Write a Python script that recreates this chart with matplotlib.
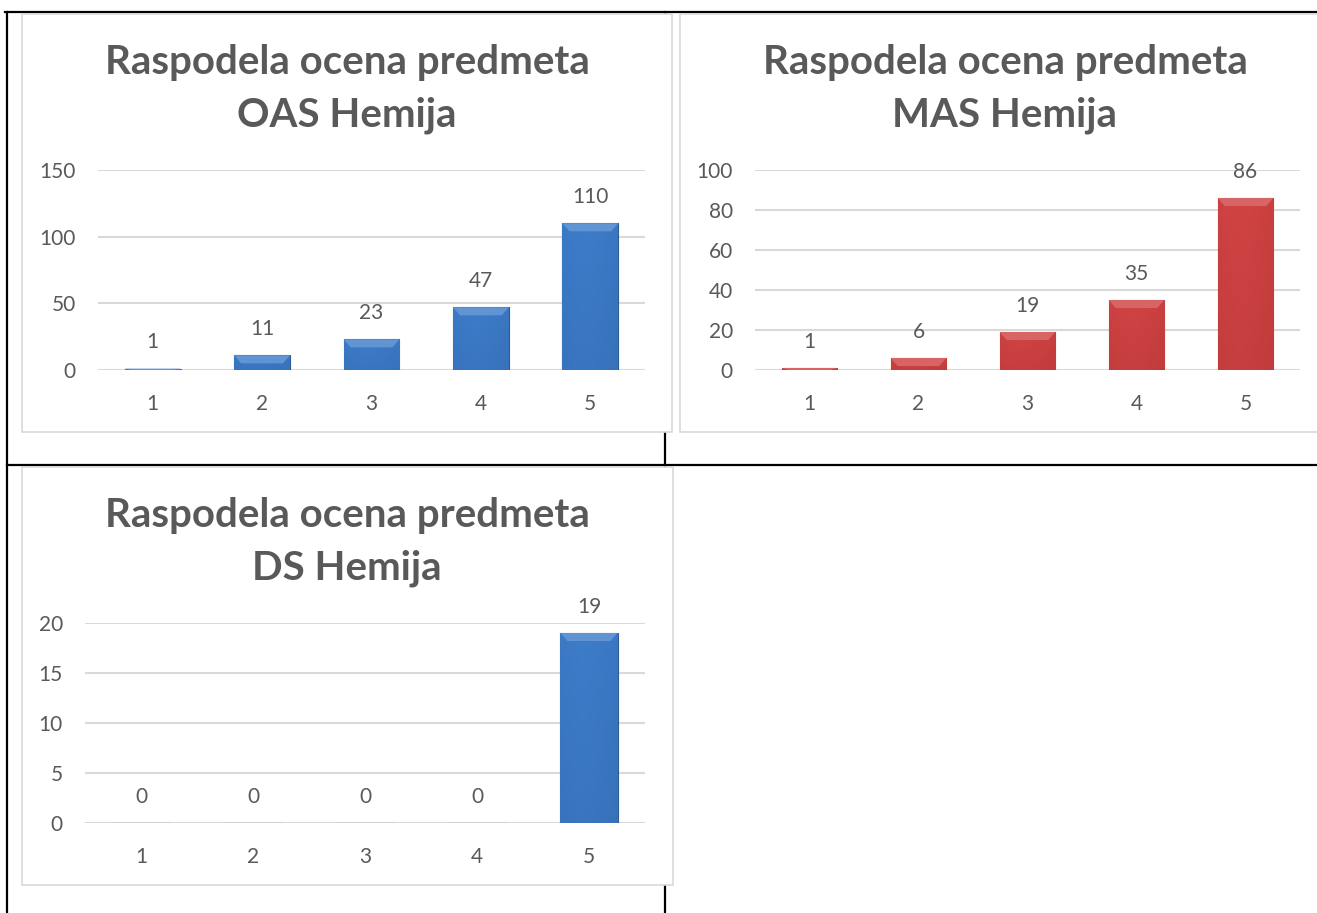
import matplotlib.pyplot as plt
import numpy as np
from matplotlib.patches import Rectangle, Polygon
from matplotlib.lines import Line2D
from matplotlib.colors import to_rgb

plt.rcParams['font.family'] = ['Lato', 'DejaVu Sans']

# Podaci
ocene = [1, 2, 3, 4, 5]
oas_hemija = [1, 11, 23, 47, 110]
mas_hemija = [1, 6, 19, 35, 86]
ds_hemija = [0, 0, 0, 0, 19]

naslovi = ["Raspodela ocena predmeta\nOAS Hemija",
           "Raspodela ocena predmeta\nMAS Hemija",
           "Raspodela ocena predmeta\nDS Hemija"]

W, H = 1317, 913
SIVA = '#595959'
MREZA = '#D9D9D9'

fig = plt.figure(figsize=(W / 100, H / 100), dpi=100)


def px(x, y, w, h):
    # pikseli (od gore) -> koordinate figure
    return [x / W, (H - y - h) / H, w / W, h / H]


def okvir(x, y, w, h):
    r = Rectangle((x / W, (H - y - h) / H), w / W, h / H, transform=fig.transFigure,
                  facecolor='white', edgecolor=MREZA, lw=1.2, zorder=1)
    fig.add_artist(r)


def linija(x1, y1, x2, y2):
    fig.add_artist(Line2D([x1 / W, x2 / W], [1 - y1 / H, 1 - y2 / H],
                          transform=fig.transFigure, color='black', lw=1.6, zorder=0))


# linije tabele
linija(5, 12, W, 12)
linija(7, 12, 7, H)
linija(7, 465, W, 465)
linija(665, 12, 665, H)

# okviri grafikona
okvir(22, 14, 650, 418)
okvir(680, 14, 650, 418)
okvir(22, 467, 651, 418)


def grafikon(pos, vrednosti, ymax, korak, boja, tamna, naslov, cx, ty):
    ax = fig.add_axes(px(*pos), zorder=2)
    ax.patch.set_alpha(0)
    ax.set_xlim(0.5, 5.5)
    ax.set_ylim(0, ymax)
    ax.set_yticks(np.arange(0, ymax + 1, korak))
    ax.set_xticks(ocene)
    ax.set_xticklabels([str(o) for o in ocene])
    for s in ax.spines.values():
        s.set_visible(False)
    ax.tick_params(length=0, labelsize=15, colors=SIVA)
    ax.tick_params(axis='x', pad=17)
    ax.tick_params(axis='y', pad=16)
    ax.grid(axis='y', color=MREZA, lw=1.5)
    ax.set_axisbelow(True)

    bars = ax.bar(ocene, vrednosti, width=0.51, color=boja, edgecolor=tamna, lw=0.8, zorder=3)
    # gradijent i ivica (bevel)
    jed = ymax / pos[3]          # jedinica podataka po pikselu
    dx = 7 / (pos[2] / 5)
    c1 = np.array(to_rgb(boja))
    c2 = np.array(to_rgb(tamna))
    for b, v in zip(bars, vrednosti):
        if v <= 0:
            continue
        x0, w = b.get_x(), b.get_width()
        gx = np.linspace(0, 1, 50)
        gy = np.linspace(0, 1, 50)
        sx = 1 - 0.35 * np.abs(gx - 0.4) ** 1.5
        sy = 0.8 + 0.2 * gy
        f = np.outer(sy, sx)[..., None]
        img = c2 + (c1 - c2) * f
        im = ax.imshow(np.clip(img, 0, 1), extent=[x0, x0 + w, 0, v], origin='lower',
                       aspect='auto', zorder=3, interpolation='bilinear')
        im.set_clip_path(b)
        bh = min(8 * jed, v)
        svetla = tuple(c1 + (1 - c1) * 0.18)
        ax.add_patch(Polygon([(x0, v), (x0 + w, v), (x0 + w - dx, v - bh), (x0 + dx, v - bh)],
                             closed=True, facecolor=svetla, edgecolor='none', zorder=4))
    for o, v in zip(ocene, vrednosti):
        ax.annotate(str(v), (o, v), xytext=(0, 19), textcoords='offset points',
                    ha='center', va='center', fontsize=15, color=SIVA)
    ax.set_xlim(0.5, 5.5)
    ax.set_ylim(0, ymax)
    fig.text(cx / W, 1 - ty / H, naslov, ha='center', va='center', fontsize=29,
             fontweight='bold', color=SIVA, linespacing=1.5, zorder=3)
    return ax


grafikon((98, 170, 547, 200), oas_hemija, 150, 50, '#3D7CC9', '#2B5C9A', naslovi[0], 347, 89)
grafikon((755, 170, 545, 200), mas_hemija, 100, 20, '#D04343', '#A02D2D', naslovi[1], 1005, 89)
grafikon((85, 623, 560, 200), ds_hemija, 20, 5, '#3D7CC9', '#2B5C9A', naslovi[2], 347, 542)

fig.savefig('out.png', dpi=100)
